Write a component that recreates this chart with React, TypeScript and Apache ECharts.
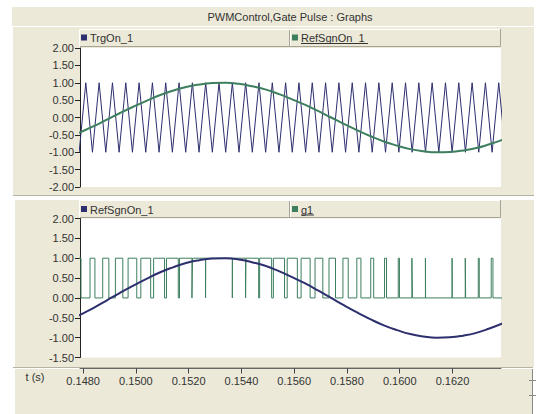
import React, { useEffect, useRef } from "react";
import * as echarts from "echarts";

// ---- data ----
const refTimes = [
  0.1474, 0.1479, 0.1484, 0.1489, 0.1494, 0.1499, 0.1504, 0.1509, 0.1514, 0.1519,
  0.1524, 0.1529, 0.1534, 0.1539, 0.1544, 0.1549, 0.1554, 0.1559, 0.1564, 0.1569,
  0.1574, 0.1579, 0.1584, 0.1589, 0.1594, 0.1599, 0.1604, 0.1609, 0.1614, 0.1619,
  0.1624, 0.1629, 0.1634, 0.1639,
];
const refValues = [
  -0.59, -0.42, -0.25, -0.06, 0.13, 0.31, 0.48, 0.64, 0.77, 0.88,
  0.95, 0.99, 1.0, 0.97, 0.9, 0.81, 0.68, 0.53, 0.37, 0.19,
  0.0, -0.19, -0.37, -0.54, -0.69, -0.81, -0.91, -0.97, -1.0, -0.99,
  -0.95, -0.88, -0.77, -0.64,
];

const carrierTroughTimes = [
  0.1478475, 0.1483525, 0.1488575, 0.1493625, 0.1498675, 0.1503725, 0.1508775,
  0.1513825, 0.1518875, 0.1523925, 0.1528975, 0.1534025, 0.1539075, 0.1544125,
  0.1549175, 0.1554225, 0.1559275, 0.1564325, 0.1569375, 0.1574425, 0.1579475,
  0.1584525, 0.1589575, 0.1594625, 0.1599675, 0.1604725, 0.1609775, 0.1614825,
  0.1619875, 0.1624925, 0.1629975, 0.1635025, 0.1640075,
];
const carrierPeakTimes = [
  0.1481, 0.148605, 0.14911, 0.149615, 0.15012, 0.150625, 0.15113, 0.151635,
  0.15214, 0.152645, 0.15315, 0.153655, 0.15416, 0.154665, 0.15517, 0.155675,
  0.15618, 0.156685, 0.15719, 0.157695, 0.1582, 0.158705, 0.15921, 0.159715,
  0.16022, 0.160725, 0.16123, 0.161735, 0.16224, 0.162745, 0.16325, 0.163755,
];
const carrierLow = -1;
const carrierHigh = 1;

const g1RiseTimes = [
  0.147777, 0.14826, 0.148741, 0.149222, 0.149703, 0.150186, 0.150671, 0.151159,
  0.151651, 0.152146, 0.152646, 0.153659, 0.154172, 0.15469, 0.155211, 0.155735,
  0.156262, 0.15679, 0.157319, 0.157848, 0.158375, 0.158902, 0.159425, 0.159945,
  0.160462, 0.160975, 0.161986, 0.162485, 0.162979, 0.16347,
];
const g1FallTimes = [
  0.147918, 0.148446, 0.148974, 0.149503, 0.150032, 0.150559, 0.151084, 0.151606,
  0.152124, 0.152639, 0.153655, 0.154156, 0.154653, 0.155145, 0.155634, 0.15612,
  0.156604, 0.157085, 0.157566, 0.158048, 0.15853, 0.159014, 0.1595, 0.15999,
  0.160483, 0.160981, 0.161989, 0.1625, 0.163016, 0.163535,
];
const g1Low = 0;
const g1High = 1;

const xTickValues = [0.148, 0.15, 0.152, 0.154, 0.156, 0.158, 0.16, 0.162];
const xMin = 0.14788;
const xMax = 0.16384;

const titleText = "PWMControl,Gate Pulse : Graphs";
const topLegend = ["TrgOn_1", "RefSgnOn_1"];
const bottomLegend = ["RefSgnOn_1", "g1"];
const xAxisName = "t (s)";

// ---- styles ----
const NAVY = "#2d2f6e";
const GREEN = "#3d7f5e";
const BEIGE = "#ECE9D8";
const FONT = '11px "Liberation Sans", Arial, sans-serif';
const TXT = "#333333";

function buildOption() {
  const refData = refTimes.map((t, i) => [t, refValues[i]]);
  const carrierData: number[][] = [];
  for (let i = 0; i < carrierTroughTimes.length; i++) {
    carrierData.push([carrierTroughTimes[i], carrierLow]);
    if (i < carrierPeakTimes.length) carrierData.push([carrierPeakTimes[i], carrierHigh]);
  }
  const g1Data: number[][] = [[0.1476, g1Low]];
  for (let i = 0; i < g1RiseTimes.length; i++) {
    g1Data.push([g1RiseTimes[i], g1Low]);
    g1Data.push([g1RiseTimes[i], g1High]);
    g1Data.push([g1FallTimes[i], g1High]);
    g1Data.push([g1FallTimes[i], g1Low]);
  }
  g1Data.push([0.1642, g1Low]);

  const yAxisCommon = {
    type: "value",
    interval: 0.5,
    axisLine: { show: true, onZero: false, lineStyle: { color: "#222", width: 1 } },
    axisTick: { show: true, length: 5, lineStyle: { color: "#222" } },
    axisLabel: {
      color: TXT,
      fontSize: 11,
      fontFamily: '"Liberation Sans", Arial, sans-serif',
      margin: 6,
      formatter: (v: number) => v.toFixed(2),
    },
    splitLine: { show: false },
  };

  const legendBar = (y: number, h: number) => [
    { type: "rect", z: 1, shape: { x: 79, y, width: 422, height: h }, style: { fill: BEIGE } },
    { type: "polyline", z: 2, shape: { points: [[79.5, y + h], [79.5, y + 0.5], [500.5, y + 0.5]] }, style: { stroke: "#ffffff", lineWidth: 1, fill: null } },
    { type: "polyline", z: 2, shape: { points: [[80, y + h - 0.5], [500.5, y + h - 0.5], [500.5, y]] }, style: { stroke: "#a6a397", lineWidth: 1, fill: null } },
    { type: "line", z: 2, shape: { x1: 289.5, y1: y + 1, x2: 289.5, y2: y + h - 1 }, style: { stroke: "#a6a397", lineWidth: 1 } },
    { type: "line", z: 2, shape: { x1: 290.5, y1: y + 1, x2: 290.5, y2: y + h - 1 }, style: { stroke: "#ffffff", lineWidth: 1 } },
  ];

  const legendItem = (x: number, yMid: number, color: string, text: string, underline: boolean, width: number) => {
    const els: any[] = [
      { type: "rect", z: 3, shape: { x, y: yMid - 3.5, width: 6, height: 6 }, style: { fill: color } },
      {
        type: "text",
        z: 3,
        x: x + 9,
        y: yMid,
        style: { text, font: FONT, fill: TXT, verticalAlign: "middle", textVerticalAlign: "middle" },
      },
    ];
    if (underline) {
      els.push({
        type: "line",
        z: 3,
        shape: { x1: x + 9, y1: yMid + 5.5, x2: x + 9 + width, y2: yMid + 5.5 },
        style: { stroke: TXT, lineWidth: 1 },
      });
    }
    return els;
  };

  const graphicEls: any[] = [
    // title bar
    { type: "rect", z: -10, shape: { x: 12, y: 7, width: 522, height: 19 }, style: { fill: BEIGE } },
    {
      type: "text",
      z: 3,
      x: 290,
      y: 16.5,
      style: { text: titleText, font: FONT, fill: TXT, align: "center", textAlign: "center", verticalAlign: "middle", textVerticalAlign: "middle" },
    },
    // top panel
    { type: "rect", z: -10, shape: { x: 13, y: 27, width: 521, height: 168 }, style: { fill: BEIGE } },
    { type: "line", z: -9, shape: { x1: 13, y1: 195.5, x2: 534, y2: 195.5 }, style: { stroke: "#b5b2a6", lineWidth: 1 } },
    // bottom panel
    { type: "rect", z: -10, shape: { x: 15, y: 200, width: 519, height: 167 }, style: { fill: BEIGE } },
    { type: "line", z: -9, shape: { x1: 13, y1: 367.5, x2: 533, y2: 367.5 }, style: { stroke: "#b5b2a6", lineWidth: 1 } },
    // x axis area
    { type: "rect", z: -10, shape: { x: 15, y: 369, width: 517, height: 45 }, style: { fill: BEIGE } },
    { type: "line", z: -9, shape: { x1: 532.5, y1: 369, x2: 532.5, y2: 414 }, style: { stroke: "#8a8a8a", lineWidth: 1 } },
    { type: "line", z: -9, shape: { x1: 529, y1: 380.5, x2: 536, y2: 380.5 }, style: { stroke: "#8a8a8a", lineWidth: 1 } },
    { type: "line", z: -9, shape: { x1: 529, y1: 395.5, x2: 536, y2: 395.5 }, style: { stroke: "#8a8a8a", lineWidth: 1 } },
    {
      type: "text",
      z: 3,
      x: 35,
      y: 377,
      style: { text: xAxisName, font: FONT, fill: TXT, align: "center", textAlign: "center", verticalAlign: "middle", textVerticalAlign: "middle" },
    },
    ...legendBar(29, 18),
    ...legendItem(81, 38, NAVY, topLegend[0], false, 0),
    ...legendItem(292, 38, GREEN, topLegend[1], true, 67),
    ...legendBar(200, 18),
    ...legendItem(81, 209.5, NAVY, bottomLegend[0], false, 0),
    ...legendItem(292, 209.5, GREEN, bottomLegend[1], true, 13),
  ];

  return {
    animation: false,
    backgroundColor: "#ffffff",
    graphic: { elements: graphicEls },
    grid: [
      { left: 80, top: 48, width: 421, height: 139, show: true, backgroundColor: "#ffffff", borderWidth: 0 },
      { left: 80, top: 218.5, width: 421, height: 139, show: true, backgroundColor: "#ffffff", borderWidth: 0 },
    ],
    xAxis: [
      { type: "value", gridIndex: 0, min: xMin, max: xMax, show: false },
      {
        type: "value",
        gridIndex: 1,
        min: xMin,
        max: xMax,
        position: "bottom",
        offset: 11,
        axisLine: { show: true, onZero: false, lineStyle: { color: "#666", width: 1 } },
        axisTick: { show: true, length: 5, customValues: xTickValues, lineStyle: { color: "#444" } },
        axisLabel: {
          customValues: xTickValues,
          color: TXT,
          fontSize: 11,
          fontFamily: '"Liberation Sans", Arial, sans-serif',
          margin: 7,
          formatter: (v: number) => v.toFixed(4),
        },
        splitLine: { show: false },
      },
    ],
    yAxis: [
      { ...yAxisCommon, gridIndex: 0, min: -2, max: 2 },
      { ...yAxisCommon, gridIndex: 1, min: -1.5, max: 2 },
    ],
    series: [
      {
        name: topLegend[0],
        type: "line",
        xAxisIndex: 0,
        yAxisIndex: 0,
        data: carrierData,
        showSymbol: false,
        symbol: "none",
        clip: true,
        lineStyle: { color: NAVY, width: 1 },
        z: 2,
      },
      {
        name: topLegend[1],
        type: "line",
        xAxisIndex: 0,
        yAxisIndex: 0,
        data: refData,
        smooth: true,
        showSymbol: false,
        symbol: "none",
        clip: true,
        lineStyle: { color: GREEN, width: 2 },
        z: 3,
      },
      {
        name: bottomLegend[1],
        type: "line",
        xAxisIndex: 1,
        yAxisIndex: 1,
        data: g1Data,
        showSymbol: false,
        symbol: "none",
        clip: true,
        lineStyle: { color: GREEN, width: 1 },
        z: 2,
      },
      {
        name: bottomLegend[0],
        type: "line",
        xAxisIndex: 1,
        yAxisIndex: 1,
        data: refData,
        smooth: true,
        showSymbol: false,
        symbol: "none",
        clip: true,
        lineStyle: { color: NAVY, width: 2 },
        z: 3,
      },
    ],
  };
}

export default function App() {
  const ref = useRef<HTMLDivElement>(null);
  useEffect(() => {
    if (!ref.current) return;
    const chart = echarts.init(ref.current, null, { renderer: "svg" });
    chart.setOption(buildOption() as any);
    return () => chart.dispose();
  }, []);
  return (
    <div
      ref={ref}
      style={{ position: "fixed", left: 0, top: 0, width: 538, height: 414, background: "#fff" }}
    />
  );
}
